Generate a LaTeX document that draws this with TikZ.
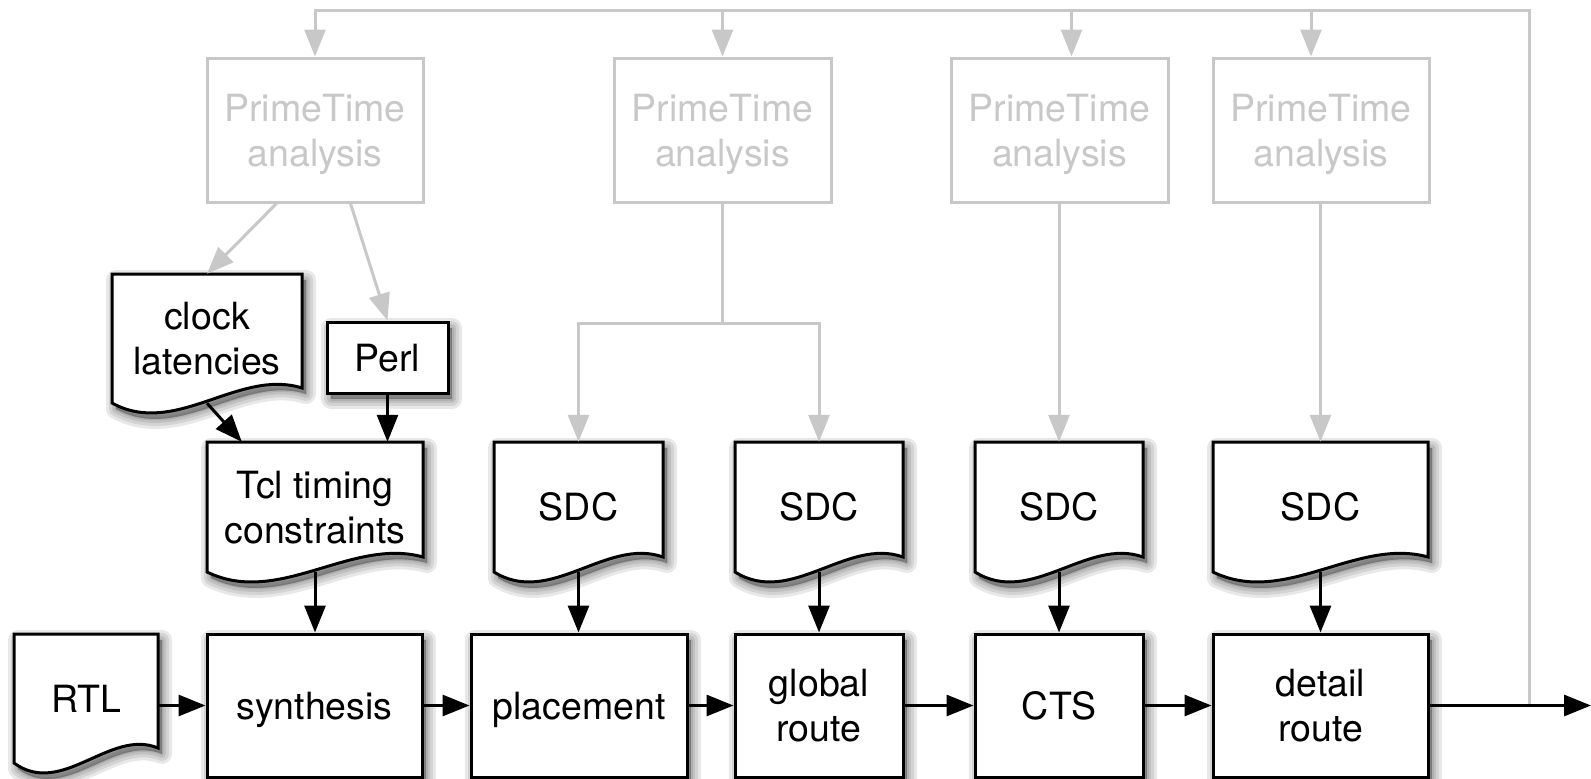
\documentclass[tikz,border=0pt]{standalone}
\usepackage{fontspec}
\setmainfont{TeX Gyre Heros}
\usetikzlibrary{arrows.meta,calc}
\definecolor{ptgrey}{RGB}{200,200,200}
\tikzset{
  base/.style={inner sep=0pt, align=center, font=\fontsize{37.5}{45}\selectfont, text depth=0pt},
  l1/.style={text height=27pt},
  l2/.style={text height=72pt},
  shlayer/.style={preaction={draw=black, fill=black, draw opacity=0.09, fill opacity=0.09, line width=#1, line join=round, transform canvas={xshift=4pt, yshift=-6pt}}},
  myshadow/.style={shlayer=20pt, shlayer=14pt, shlayer=8pt, shlayer=3pt},
  procbox/.style={base, draw=black, line width=3pt, fill=white, myshadow},
  docnode/.style={base, draw=none},
  ptbox/.style={base, l2, draw=ptgrey, text=ptgrey, line width=3pt, fill=white},
  docshape/.style={draw=black, line width=3pt, fill=white, myshadow},
  flow/.style={line width=3pt, -{Triangle[length=27pt,width=21pt]}},
  gflow/.style={flow, draw=ptgrey},
}
% name, cx, cy, w, h, style, text
\newcommand\mydoc[7]{%
  \pgfmathsetmacro\dL{#2-#4/2}\pgfmathsetmacro\dR{#2+#4/2}%
  \pgfmathsetmacro\dT{#3-#5/2}\pgfmathsetmacro\dB{#3+#5/2}%
  \pgfmathsetmacro\dA{#2-#4/2+#4*0.667}\pgfmathsetmacro\dC{#2-#4/2+#4*0.333}%
  \path[docshape] (\dL,\dT) -- (\dR,\dT) -- (\dR,\dB-15)
    .. controls (\dA,\dB-35) and (\dC,\dB+35) .. (\dL,\dB) -- cycle;
  \node[docnode, #6, minimum width=#4pt, minimum height=#5pt] (#1) at (#2,#3) {#7};}
\begin{document}
\begin{tikzpicture}[x=1pt,y=-1pt]
\useasboundingbox (0,0) rectangle (1591,779);
% PrimeTime boxes
\node[ptbox, minimum width=216pt, minimum height=144pt] (pt1) at (315,130) {PrimeTime\\analysis};
\node[ptbox, minimum width=217pt, minimum height=144pt] (pt2) at (722.5,130) {PrimeTime\\analysis};
\node[ptbox, minimum width=217pt, minimum height=144pt] (pt3) at (1059.5,130) {PrimeTime\\analysis};
\node[ptbox, minimum width=216pt, minimum height=144pt] (pt4) at (1321,130) {PrimeTime\\analysis};
% documents
\mydoc{clock}{207}{338.5}{190}{129}{l2}{clock\\latencies}
\mydoc{tcl}{315}{507}{216}{130}{l2}{Tcl timing\\constraints}
\mydoc{sdc1}{578.5}{507}{169}{130}{l1}{SDC}
\mydoc{sdc2}{819}{507}{168}{130}{l1}{SDC}
\mydoc{sdc3}{1059}{507}{168}{130}{l1}{SDC}
\mydoc{sdc4}{1320.5}{507}{215}{130}{l1}{SDC}
\mydoc{rtl}{86}{698.5}{144}{129}{l1}{RTL}
% process boxes
\node[procbox, l1, minimum width=121pt, minimum height=71pt] (perl) at (387.5,357.5) {Perl};
\node[procbox, l1, minimum width=215pt, minimum height=143pt] (synth) at (314.5,705.5) {synthesis};
\node[procbox, l1, minimum width=216pt, minimum height=143pt] (place) at (579,705.5) {placement};
\node[procbox, l2, minimum width=168pt, minimum height=143pt] (groute) at (819,705.5) {global\\route};
\node[procbox, l1, minimum width=168pt, minimum height=143pt] (cts) at (1059,705.5) {CTS};
\node[procbox, l2, minimum width=215pt, minimum height=143pt] (droute) at (1320.5,705.5) {detail\\route};
\coordinate (out) at (1591,705.5);
\coordinate (junc) at (1529,705.5);
\coordinate (top) at (1529,10);
% grey feedback
\draw[gflow] (junc) -- (top) -| (pt1.north);
\draw[gflow] (pt2.north |- top) -- (pt2.north);
\draw[gflow] ([xshift=12pt]pt3.north |- top) -- ([xshift=12pt]pt3.north);
\draw[gflow] ([xshift=-10pt]pt4.north |- top) -- ([xshift=-10pt]pt4.north);
\draw[gflow] ([xshift=71pt]pt1.south west) -- (clock.north);
\draw[gflow] ([xshift=145pt]pt1.south west) -- (perl.north);
\draw[gflow] (pt2.south) -- ++(0,120) -| (sdc1.north);
\draw[gflow] (pt2.south) -- ++(0,120) -| (sdc2.north);
\draw[gflow] (sdc3.north |- pt3.south) -- (sdc3.north);
\draw[gflow] (sdc4.north |- pt4.south) -- (sdc4.north);
% black flows
\draw[flow] (clock.south) -- ([xshift=35pt]tcl.north west);
\draw[flow] (perl.south) -- (perl.south |- tcl.north);
\draw[flow] (tcl.south) -- (tcl.south |- synth.north);
\draw[flow] (sdc1.south) -- (sdc1.south |- place.north);
\draw[flow] (sdc2.south) -- (sdc2.south |- groute.north);
\draw[flow] (sdc3.south) -- (sdc3.south |- cts.north);
\draw[flow] (sdc4.south) -- (sdc4.south |- droute.north);
\draw[flow] (rtl.east |- synth.west) -- (synth.west);
\draw[flow] (synth.east) -- (place.west);
\draw[flow] (place.east) -- (groute.west);
\draw[flow] (groute.east) -- (cts.west);
\draw[flow] (cts.east) -- (droute.west);
\draw[flow] (droute.east) -- (out);
\end{tikzpicture}
\end{document}
